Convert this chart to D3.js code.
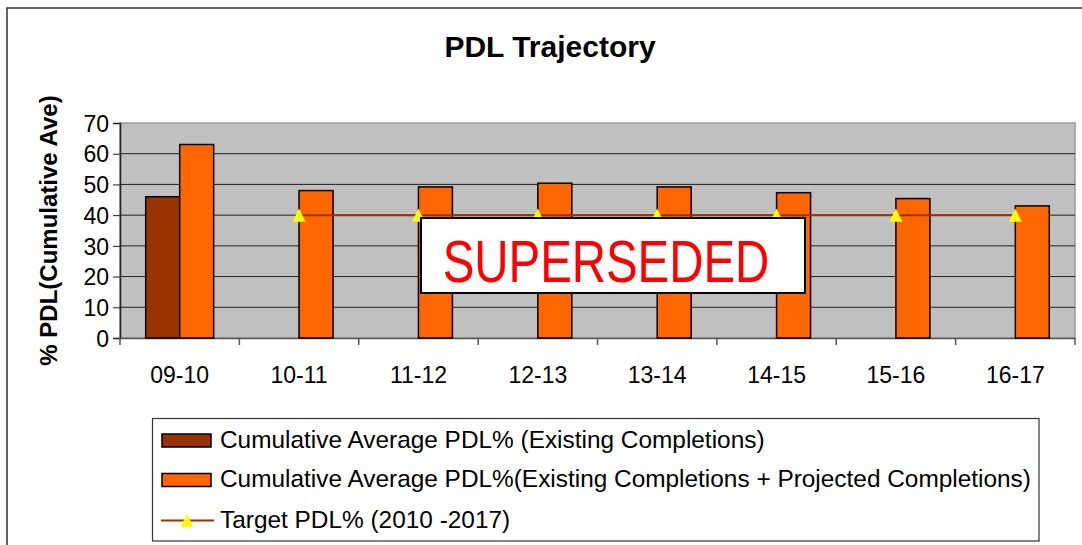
<!DOCTYPE html>
<html>
<head>
<meta charset="utf-8">
<script src="https://cdn.jsdelivr.net/npm/d3@7"></script>
<style>
  html, body { margin: 0; padding: 0; background: #fff; }
  svg { display: block; font-family: Arial, "Liberation Sans", sans-serif; }
</style>
</head>
<body>
<svg id="chart" width="1082" height="545"></svg>
<script>
// Chart data
const categories = ["09-10", "10-11", "11-12", "12-13", "13-14", "14-15", "15-16", "16-17"];
const existing = [46, null, null, null, null, null, null, null];
const projected = [63, 48, 49.2, 50.4, 49.2, 47.3, 45.4, 43];
const target = [null, 40, 40, 40, 40, 40, 40, 40];
const yTicks = [0, 10, 20, 30, 40, 50, 60, 70];
const legendLabels = [
  "Cumulative Average PDL% (Existing Completions)",
  "Cumulative Average PDL%(Existing Completions + Projected Completions)",
  "Target PDL% (2010 -2017)"
];

const colors = { existing: "#993300", projected: "#FF6600", line: "#993300", marker: "#FFFF00" };

const svg = d3.select("#chart");
const plot = { left: 120, right: 1075, top: 123, bottom: 338 };

// Outer chart frame
svg.append("rect")
  .attr("x", 7).attr("y", 8).attr("width", 1090).attr("height", 560)
  .attr("fill", "#fff").attr("stroke", "#333").attr("stroke-width", 1.5);

// Title
svg.append("text")
  .attr("x", 550).attr("y", 56.5)
  .attr("text-anchor", "middle")
  .attr("font-size", 30).attr("font-weight", "bold")
  .text("PDL Trajectory");

const x = d3.scaleBand().domain(categories).range([plot.left, plot.right]).paddingInner(0).paddingOuter(0);
const y = d3.scaleLinear().domain([0, 70]).range([plot.bottom, plot.top]);
const sub = d3.scaleBand().domain(["existing", "projected"]).range([0, x.bandwidth()])
  .paddingInner(0).paddingOuter(0.756);

// Plot background
svg.append("rect")
  .attr("x", plot.left).attr("y", plot.top)
  .attr("width", plot.right - plot.left).attr("height", plot.bottom - plot.top)
  .attr("fill", "#C0C0C0").attr("stroke", "#999").attr("stroke-width", 1.5);

// Horizontal gridlines
svg.append("g").selectAll("line")
  .data(yTicks.filter(d => d > 0 && d < 70))
  .join("line")
  .attr("x1", plot.left).attr("x2", plot.right)
  .attr("y1", d => y(d)).attr("y2", d => y(d))
  .attr("stroke", "#222").attr("stroke-width", 1);

// Y axis
const yAxis = svg.append("g")
  .attr("transform", `translate(${plot.left},0)`)
  .call(d3.axisLeft(y).tickValues(yTicks).tickSize(7).tickPadding(4).tickFormat(d3.format("d")));
yAxis.selectAll("text").attr("font-size", 23).attr("fill", "#000").attr("font-family", "Arial, 'Liberation Sans', sans-serif").attr("dy", "0.36em");
yAxis.selectAll("line").attr("stroke", "#222");
yAxis.select(".domain").attr("stroke", "#222").attr("stroke-width", 1.5);

// X axis
const xAxis = svg.append("g")
  .attr("transform", `translate(0,${plot.bottom})`)
  .call(d3.axisBottom(x).tickSize(0).tickPadding(0));
xAxis.select(".domain").attr("stroke", "#555").attr("stroke-width", 1.5);
xAxis.selectAll(".tick text")
  .attr("font-size", 23).attr("fill", "#000")
  .attr("font-family", "Arial, 'Liberation Sans', sans-serif")
  .attr("dy", 0).attr("y", 45);
xAxis.selectAll(".tick line").remove();
// Tick marks at category boundaries
const boundaries = categories.map(c => x(c)).concat([plot.right]);
svg.append("g").selectAll("line")
  .data(boundaries)
  .join("line")
  .attr("x1", d => d).attr("x2", d => d)
  .attr("y1", plot.bottom).attr("y2", plot.bottom + 7)
  .attr("stroke", "#555").attr("stroke-width", 1.5);

// Y axis title
svg.append("text")
  .attr("transform", `translate(57,${(plot.top + plot.bottom) / 2}) rotate(-90)`)
  .attr("text-anchor", "middle")
  .attr("font-size", 24).attr("font-weight", "bold")
  .text("% PDL(Cumulative Ave)");

// Bars
const barSeries = [
  { key: "existing", values: existing, color: colors.existing },
  { key: "projected", values: projected, color: colors.projected }
];
barSeries.forEach(s => {
  svg.append("g").selectAll("rect")
    .data(categories.map((c, i) => ({ c, v: s.values[i] })).filter(d => d.v != null))
    .join("rect")
    .attr("x", d => x(d.c) + sub(s.key))
    .attr("y", d => y(d.v))
    .attr("width", sub.bandwidth())
    .attr("height", d => y(0) - y(d.v))
    .attr("fill", s.color)
    .attr("stroke", "#000").attr("stroke-width", 1.5);
});

// Triangle marker, slightly taller than equilateral
const triMarker = {
  draw(ctx, size) {
    const w = Math.sqrt(size);
    ctx.moveTo(0, -w / 2);
    ctx.lineTo(w / 2, w / 2);
    ctx.lineTo(-w / 2, w / 2);
    ctx.closePath();
  }
};
const tri = d3.symbol().type(triMarker).size(170);

// Target line with triangle markers
const targetPts = categories.map((c, i) => ({ c, v: target[i] })).filter(d => d.v != null);
const line = d3.line().x(d => x(d.c) + x.bandwidth() / 2).y(d => y(d.v));
svg.append("path")
  .datum(targetPts)
  .attr("d", line)
  .attr("fill", "none").attr("stroke", colors.line).attr("stroke-width", 2);
svg.append("g").selectAll("path")
  .data(targetPts)
  .join("path")
  .attr("transform", d => `translate(${x(d.c) + x.bandwidth() / 2},${y(d.v)})`)
  .attr("d", tri)
  .attr("fill", colors.marker);

// SUPERSEDED stamp
svg.append("rect")
  .attr("x", 421).attr("y", 218).attr("width", 384).attr("height", 75)
  .attr("fill", "#fff").attr("stroke", "#000").attr("stroke-width", 2);
svg.append("text")
  .attr("transform", "translate(606,281.5) scale(0.79,1)")
  .attr("text-anchor", "middle")
  .attr("font-size", 60).attr("fill", "#FF0000")
  .text("SUPERSEDED");

// Legend
const lg = svg.append("g");
lg.append("rect")
  .attr("x", 152.5).attr("y", 418.5).attr("width", 886.5).attr("height", 122.5)
  .attr("fill", "#fff").attr("stroke", "#333").attr("stroke-width", 1.2);
const rowY = [440.5, 480, 520.5];
[colors.existing, colors.projected].forEach((col, i) => {
  lg.append("rect")
    .attr("x", 162).attr("y", rowY[i] - 6.5).attr("width", 49).attr("height", 13)
    .attr("fill", col).attr("stroke", "#000").attr("stroke-width", 1.5);
});
lg.append("line")
  .attr("x1", 161).attr("x2", 214).attr("y1", rowY[2]).attr("y2", rowY[2])
  .attr("stroke", colors.line).attr("stroke-width", 2);
lg.append("path")
  .attr("transform", `translate(187,${rowY[2]})`)
  .attr("d", tri).attr("fill", colors.marker);
lg.selectAll("text.lbl")
  .data(legendLabels)
  .join("text")
  .attr("class", "lbl")
  .attr("x", 220).attr("y", (d, i) => rowY[i] + 7)
  .attr("font-size", 24.4).attr("fill", "#000")
  .text(d => d);
</script>
</body>
</html>
